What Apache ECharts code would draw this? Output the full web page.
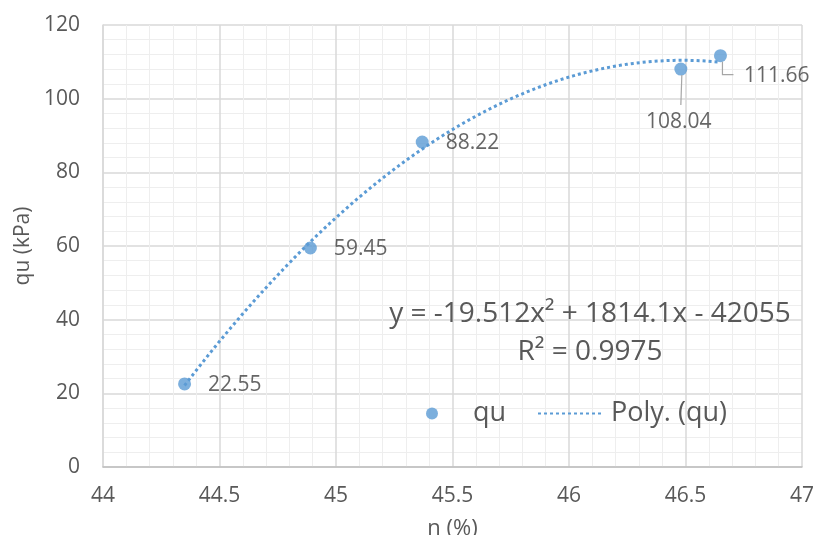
<!DOCTYPE html>
<html>
<head>
<meta charset="utf-8">
<script src="https://cdn.jsdelivr.net/npm/echarts@6/dist/echarts.min.js"></script>
<style>
  html, body { margin: 0; padding: 0; background: #fff; }
  #chart { width: 814px; height: 535px; }
</style>
</head>
<body>
<div id="chart"></div>
<script>
// Porosity n (%) against unconfined strength qu (kPa)
const nValues = [44.35, 44.89, 45.37, 46.48, 46.65];
const quValues = [22.55, 59.45, 88.22, 108.04, 111.66];
const equationText = 'y = -19.512x² + 1814.1x - 42055';
const r2Text = 'R² = 0.9975';

const FONT = '"Open Sans", "Liberation Sans", sans-serif';
const BLUE = '#5B9BD5';
const TEXT = '#595959';

// Least-squares quadratic fit of qu against n (the "Poly." trendline)
function fitQuadratic(xs, ys) {
  const n = xs.length;
  const x0 = xs.reduce((a, b) => a + b, 0) / n; // centre for numerical stability
  const S = [0, 0, 0, 0, 0], T = [0, 0, 0];
  for (let i = 0; i < n; i++) {
    const u = xs[i] - x0;
    for (let k = 0; k <= 4; k++) S[k] += Math.pow(u, k);
    for (let k = 0; k <= 2; k++) T[k] += ys[i] * Math.pow(u, k);
  }
  const M = [[S[0], S[1], S[2], T[0]], [S[1], S[2], S[3], T[1]], [S[2], S[3], S[4], T[2]]];
  for (let c = 0; c < 3; c++) {
    for (let r = c + 1; r < 3; r++) {
      const f = M[r][c] / M[c][c];
      for (let k = c; k < 4; k++) M[r][k] -= f * M[c][k];
    }
  }
  const coef = [0, 0, 0];
  for (let r = 2; r >= 0; r--) {
    let s = M[r][3];
    for (let k = r + 1; k < 3; k++) s -= M[r][k] * coef[k];
    coef[r] = s / M[r][r];
  }
  return x => { const u = x - x0; return coef[0] + coef[1] * u + coef[2] * u * u; };
}

const trend = fitQuadratic(nValues, quValues);
const trendData = [];
const steps = 80;
const xa = nValues[0], xb = nValues[nValues.length - 1];
for (let i = 0; i <= steps; i++) {
  const x = xa + (xb - xa) * i / steps;
  trendData.push([x, trend(x)]);
}

const chart = echarts.init(document.getElementById('chart'), null, { renderer: 'canvas' });

const pointData = nValues.map((x, i) => {
  const item = { value: [x, quValues[i]] };
  if (i === 3) item.label = { position: 'bottom', distance: 36, offset: [-2, 0] };
  if (i === 4) item.label = { position: 'right', distance: 17, offset: [0, 20] };
  return item;
});

const legendText = { color: TEXT, fontSize: 27, fontFamily: FONT };

chart.setOption({
  animation: false,
  backgroundColor: '#fff',
  grid: { left: 103, right: 12, top: 25, bottom: 68, outerBoundsMode: 'none', containLabel: false },
  xAxis: {
    type: 'value', min: 44, max: 47, interval: 0.5,
    name: 'n (%)', nameLocation: 'middle', nameGap: 51,
    nameTextStyle: { color: TEXT, fontSize: 22, fontFamily: FONT },
    axisLine: { show: true, lineStyle: { color: '#bfbfbf', width: 1.5 } },
    axisTick: { show: false },
    axisLabel: { color: TEXT, fontSize: 21, fontFamily: FONT, margin: 19,
      formatter: v => String(+v.toFixed(1)) },
    splitLine: { show: true, lineStyle: { color: '#d9d9d9', width: 1.5 } },
    minorTick: { show: false, splitNumber: 5 },
    minorSplitLine: { show: true, lineStyle: { color: '#eeeeee', width: 1 } }
  },
  yAxis: {
    type: 'value', min: 0, max: 120, interval: 20,
    name: 'qu (kPa)', nameLocation: 'middle', nameGap: 63, nameRotate: 90,
    nameTextStyle: { color: TEXT, fontSize: 21, fontFamily: FONT },
    axisLine: { show: true, lineStyle: { color: '#d9d9d9', width: 1.5 } },
    axisTick: { show: false },
    axisLabel: { color: TEXT, fontSize: 21, fontFamily: FONT, margin: 23 },
    splitLine: { show: true, lineStyle: { color: '#d9d9d9', width: 1.5 } },
    minorTick: { show: false, splitNumber: 5 },
    minorSplitLine: { show: true, lineStyle: { color: '#eeeeee', width: 1 } }
  },
  legend: [
    {
      left: 426, top: 400, padding: 0,
      itemWidth: 12, itemHeight: 12,
      textStyle: Object.assign({ padding: [0, 0, 0, 30] }, legendText),
      data: ['qu']
    },
    {
      left: 537, top: 400, padding: 0,
      itemWidth: 65, itemHeight: 12,
      textStyle: Object.assign({ padding: [0, 0, 0, 3] }, legendText),
      data: [{ name: 'Poly. (qu)', itemStyle: { opacity: 0 } }]
    }
  ],
  series: [
    {
      name: 'Poly. (qu)', type: 'line', data: trendData,
      symbol: 'none', smooth: false, z: 2,
      lineStyle: { color: BLUE, width: 3, type: [3, 3], cap: 'butt' },
      itemStyle: { color: BLUE }
    },
    {
      name: 'qu', type: 'scatter', data: pointData,
      symbol: 'circle', symbolSize: 13, z: 3,
      itemStyle: { color: BLUE },
      label: {
        show: true, position: 'right', distance: 17, offset: [0, 1],
        color: '#404040', fontSize: 21, fontFamily: FONT,
        formatter: p => p.value[1].toFixed(2)
      }
    }
  ]
});

// Equation, R² and leader lines, placed with the chart's own coordinate mapping
const p3 = chart.convertToPixel({ gridIndex: 0 }, [nValues[3], quValues[3]]);
const p4 = chart.convertToPixel({ gridIndex: 0 }, [nValues[4], quValues[4]]);
const eqX = chart.convertToPixel({ gridIndex: 0 }, [46.09, 0])[0];
const eqY1 = chart.convertToPixel({ gridIndex: 0 }, [0, 41.4])[1];
const eqY2 = chart.convertToPixel({ gridIndex: 0 }, [0, 31.2])[1];

chart.setOption({
  graphic: [
    { type: 'text', x: eqX, y: eqY1, z: 10,
      style: { text: equationText, fill: TEXT, font: '28px ' + FONT,
        textAlign: 'center', textVerticalAlign: 'middle' } },
    { type: 'text', x: eqX, y: eqY2, z: 10,
      style: { text: r2Text, fill: TEXT, font: '28px ' + FONT,
        textAlign: 'center', textVerticalAlign: 'middle' } },
    { type: 'polyline', z: 10, silent: true,
      shape: { points: [[p3[0] + 1, p3[1] + 6], [p3[0], p3[1] + 36]] },
      style: { stroke: '#a6a6a6', lineWidth: 1.2, fill: null } },
    { type: 'polyline', z: 10, silent: true,
      shape: { points: [[p4[0] + 2, p4[1] + 6], [p4[0] + 2, p4[1] + 19], [p4[0] + 13, p4[1] + 19]] },
      style: { stroke: '#a6a6a6', lineWidth: 1.2, fill: null } }
  ]
});
</script>
</body>
</html>
